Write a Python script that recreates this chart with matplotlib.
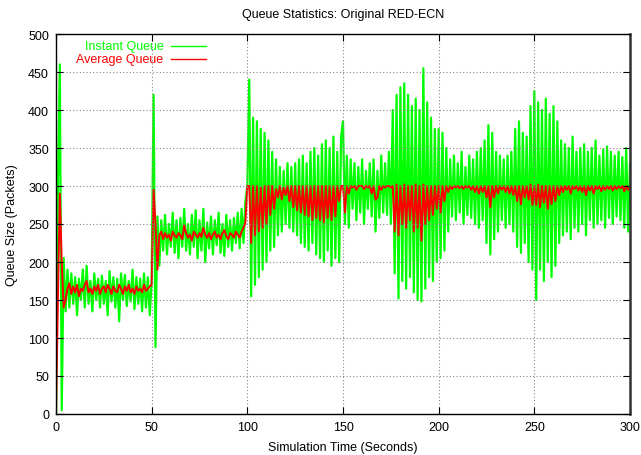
import numpy as np
import matplotlib
matplotlib.use("Agg")
import matplotlib.pyplot as plt

plt.rcParams['font.family'] = ['Liberation Sans', 'DejaVu Sans']
plt.rcParams['font.size'] = 9

# Instant queue length (packets), one reading per second, by 50 s block
inst_0_49 = [0, 300, 460, 5, 205, 135, 190, 140, 185, 145, 180, 130, 178, 150, 190, 140,
             195, 145, 175, 135, 185, 150, 178, 140, 182, 145, 175, 130, 188, 148, 180, 140,
             178, 122, 185, 150, 183, 142, 175, 148, 190, 138, 180, 145, 178, 135, 185, 140,
             180, 130]
inst_50_99 = [175, 420, 88, 260, 195, 255, 215, 262, 210, 250, 220, 265, 212, 255, 205, 258,
              220, 270, 215, 250, 210, 262, 220, 268, 205, 255, 215, 270, 200, 252, 218, 260,
              210, 255, 222, 265, 212, 250, 208, 262, 220, 255, 215, 258, 225, 265, 218, 270,
              225, 280]
inst_100_149 = [300, 440, 155, 390, 170, 385, 180, 375, 190, 370, 200, 360, 215, 345, 220, 335,
                235, 325, 240, 320, 250, 330, 245, 325, 240, 330, 235, 335, 225, 340, 220, 330,
                215, 345, 225, 350, 210, 340, 205, 355, 200, 360, 215, 350, 195, 365, 205, 345,
                200, 365]
inst_150_199 = [385, 250, 340, 245, 335, 270, 330, 255, 325, 265, 335, 250, 320, 270, 330, 260,
                335, 240, 320, 258, 340, 265, 330, 262, 345, 250, 400, 185, 420, 152, 430, 175,
                435, 165, 420, 180, 405, 160, 415, 150, 400, 148, 455, 165, 410, 180, 390, 175,
                375, 200]
inst_200_249 = [375, 205, 370, 215, 350, 240, 335, 260, 340, 255, 330, 265, 345, 250, 325, 262,
                340, 258, 335, 250, 345, 245, 350, 255, 360, 225, 380, 210, 370, 230, 345, 240,
                340, 255, 335, 245, 340, 250, 345, 240, 375, 220, 385, 212, 370, 225, 365, 200,
                405, 190]
inst_250_300 = [425, 150, 410, 190, 400, 175, 415, 200, 395, 180, 405, 195, 385, 225, 360, 235,
                355, 240, 350, 230, 365, 245, 345, 240, 350, 250, 355, 235, 345, 255, 350, 245,
                360, 250, 340, 255, 348, 245, 352, 258, 345, 250, 340, 260, 345, 255, 338, 245,
                350, 240, 330]

# Average (RED-estimated) queue length, same time base
avg_0_49 = [0, 150, 290, 200, 140, 150, 165, 172, 158, 168, 160, 170, 155, 165, 162, 170,
            175, 160, 165, 158, 168, 162, 170, 158, 165, 168, 160, 170, 165, 158, 168, 162,
            160, 170, 165, 158, 168, 162, 170, 160, 165, 158, 168, 162, 165, 160, 170, 162,
            165, 168]
avg_50_99 = [170, 295, 250, 190, 235, 240, 230, 238, 232, 236, 228, 240, 235, 232, 238, 235,
             230, 248, 238, 232, 236, 228, 240, 236, 232, 238, 233, 245, 236, 232, 238, 230,
             236, 240, 232, 236, 230, 238, 242, 234, 230, 238, 236, 232, 240, 236, 232, 240,
             245, 252]
avg_100_149 = [300, 300, 225, 300, 235, 300, 240, 298, 245, 300, 250, 300, 262, 300, 270, 296,
               285, 300, 282, 298, 288, 300, 280, 300, 272, 300, 268, 300, 265, 300, 262, 300,
               260, 300, 255, 300, 258, 300, 255, 300, 252, 300, 258, 300, 255, 300, 260, 300,
               280, 300]
avg_150_199 = [300, 265, 300, 290, 300, 298, 300, 295, 300, 300, 300, 296, 300, 298, 300, 290,
               300, 282, 285, 300, 295, 300, 298, 300, 300, 298, 300, 240, 302, 235, 300, 250,
               302, 245, 300, 255, 300, 240, 302, 245, 300, 228, 302, 250, 300, 255, 300, 262,
               300, 270]
avg_200_249 = [300, 265, 300, 280, 300, 292, 300, 296, 300, 298, 300, 297, 300, 296, 300, 298,
               300, 295, 300, 292, 300, 290, 300, 292, 300, 285, 300, 272, 300, 285, 300, 290,
               300, 295, 300, 292, 300, 290, 300, 288, 300, 280, 300, 276, 300, 285, 300, 282,
               302, 275]
avg_250_300 = [300, 275, 302, 272, 300, 278, 300, 270, 300, 276, 300, 280, 300, 288, 300, 292,
               300, 295, 300, 290, 300, 296, 300, 294, 300, 292, 300, 288, 300, 294, 300, 290,
               300, 296, 300, 293, 300, 295, 300, 296, 300, 294, 300, 296, 300, 297, 300, 293,
               300, 295, 298]

inst_q = inst_0_49 + inst_50_99 + inst_100_149 + inst_150_199 + inst_200_249 + inst_250_300
avg_q = avg_0_49 + avg_50_99 + avg_100_149 + avg_150_199 + avg_200_249 + avg_250_300
sim_time = np.arange(len(inst_q))

fig = plt.figure(figsize=(6.41, 4.56), dpi=100)
ax = fig.add_axes([56 / 641, 41 / 456, 574 / 641, 380 / 456])

ax.plot(sim_time, inst_q, color='#00ff00', linewidth=1.6, zorder=2)
ax.plot(sim_time, avg_q, color='#ff0000', linewidth=1.4, zorder=2.1)

ax.set_xlim(0, 300)
ax.set_ylim(0, 500)
ax.set_xticks(np.arange(0, 301, 50))
ax.set_yticks(np.arange(0, 501, 50))
ax.tick_params(direction='in', length=5, top=True, right=True, colors='black',
               labelsize=9, pad=5)
ax.set_axisbelow(False)
ax.grid(True, color='#888888', linestyle=(0, (1, 2)), linewidth=0.8)
for side in ax.spines.values():
    side.set_linewidth(1.0)
    side.set_zorder(3)
ax.spines['right'].set_linewidth(1.8)
ax.spines['right'].set_color('#333333')

ax.set_title('Queue Statistics: Original RED-ECN', fontsize=9, pad=12)
ax.set_xlabel('Simulation Time (Seconds)', fontsize=9, labelpad=6)
ax.set_ylabel('Queue Size (Packets)', fontsize=9, labelpad=7)

# gnuplot-style key: right-justified coloured text, sample line after it
key = [('Instant Queue', '#00ff00', 0.969), ('Average Queue', '#ff0000', 0.935)]
for label, col, ky in key:
    ax.text(0.187, ky, label, transform=ax.transAxes, ha='right', va='center',
            color=col, fontsize=9)
    ax.plot([0.200, 0.261], [ky, ky], transform=ax.transAxes, color=col,
            linewidth=1.0, clip_on=False)

fig.savefig('out.png', dpi=100)
